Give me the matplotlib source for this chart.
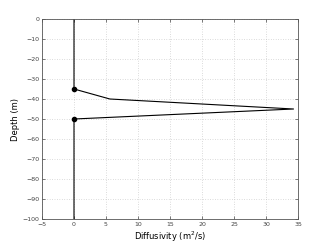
import numpy as np
import matplotlib.pyplot as plt

# diffusivity profile
depth = [0, -35, -40, -45, -50, -100]
diffusivity = [0, 0, 5.6, 34.3, 0, 0]
marker_depth = [-35, -50]
marker_diff = [0, 0]

fig = plt.figure(figsize=(3.29, 2.47), dpi=100)
ax = fig.add_axes([42/329, 28/247, 256/329, 200/247])

ax.plot(diffusivity, depth, color='black', lw=0.8)
ax.plot(marker_diff, marker_depth, 'o', color='black', ms=3)

ax.set_xlim(-5, 35)
ax.set_ylim(-100, 0)
ax.set_xticks(np.arange(-5, 36, 5))
ax.set_yticks(np.arange(-100, 1, 10))
ax.tick_params(labelsize=4.5, length=2, width=0.5, direction='in', pad=2,
               colors='#444444', top=True, right=True)
ax.grid(True, ls=(0, (1, 2.5)), color='#bbbbbb', lw=0.5)
for s in ax.spines.values():
    s.set_linewidth(0.6)
    s.set_color('#555555')

ax.set_xlabel('Diffusivity (m$^2$/s)', fontsize=6, labelpad=2)
ax.set_ylabel('Depth (m)', fontsize=6, labelpad=2)

fig.savefig('out.png', dpi=100)
